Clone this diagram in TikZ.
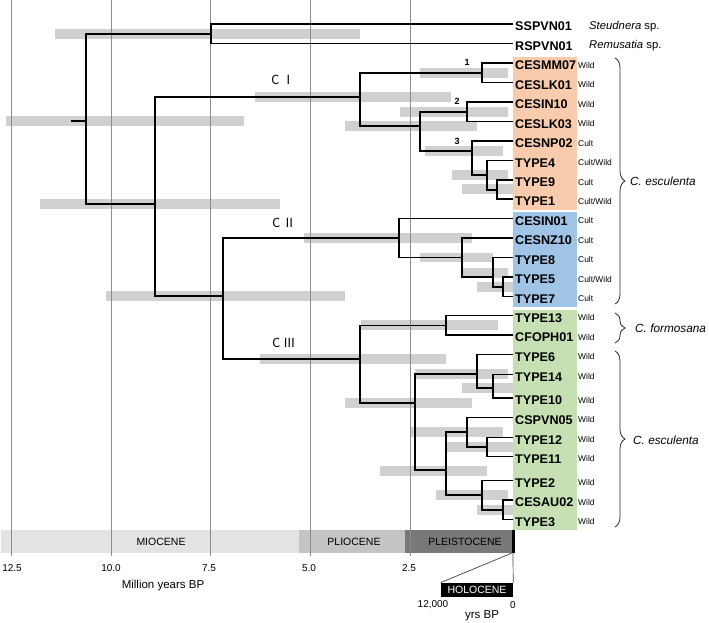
\documentclass[tikz,border=0pt]{standalone}
\usepackage{fontspec}
\setmainfont{Liberation Sans}
\newfontfamily\jpfont{Noto Sans CJK JP}
\usetikzlibrary{decorations.pathreplacing}
\definecolor{barc}{RGB}{208,208,208}
\definecolor{gridc}{RGB}{140,140,140}
\definecolor{orangebox}{RGB}{248,203,173}
\definecolor{bluebox}{RGB}{160,196,230}
\definecolor{greenbox}{RGB}{198,224,180}
\definecolor{mio}{RGB}{227,227,227}
\definecolor{plio}{RGB}{196,196,196}
\definecolor{pleis}{RGB}{120,120,120}
\newcommand\clade[3]{\draw[tree] (#2) -- (#1 |- #2) -- (#1 |- #3) -- (#3);}
\begin{document}
\begin{tikzpicture}[x=1pt,y=-1pt,
  tree/.style={line width=1.9pt,black},
  gridl/.style={gridc,line width=0.8pt},
  leaflab/.style={anchor=west,inner sep=0pt,font=\bfseries\fontsize{12.6}{12.6}\selectfont},
  statlab/.style={anchor=west,inner sep=0pt,font=\fontsize{8.4}{8.4}\selectfont},
  spec/.style={anchor=west,inner sep=0pt,font=\fontsize{11.3}{11.3}\selectfont},
  cladelab/.style={inner sep=0pt,font=\jpfont\fontsize{12.5}{12.5}\selectfont},
  numlab/.style={inner sep=0pt,font=\bfseries\fontsize{9}{9}\selectfont},
  ticklab/.style={inner sep=0pt,font=\fontsize{10}{10}\selectfont},
  epochlab/.style={inner sep=0pt,font=\fontsize{10.5}{10.5}\selectfont},
  bracec/.style={decorate,decoration={brace,amplitude=10pt},line width=0.8pt,black!85}
]
\useasboundingbox (0,0) rectangle (709,622);

% label boxes
\fill[orangebox] (513,56.5) rectangle (577,209.5);
\fill[bluebox] (513,212) rectangle (577,306.5);
\fill[greenbox] (513,310) rectangle (577,529.5);

% HPD bars
\foreach \a/\b/\c in {55/360/34, 6/244/121, 40/280/204, 255/451/97, 420/508/73,
  345/477/126, 400/508/112, 425/503/151, 452/508/175, 462/513/189,
  106/345/296, 304/472/238, 420/493/257.5, 462/508/273, 477/513/287,
  260/446/359, 361/498/325, 345/472/403, 415/508/374, 462/513/388,
  380/487/471, 410/503/432, 447/513/447, 436/508/495, 477/513/510}
  \fill[barc] (\a,\c-4.75) rectangle (\b,\c+4.75);

% epochs
\fill[mio] (1,530) rectangle (299,553);
\fill[plio] (299,530) rectangle (405,553);
\fill[pleis] (405,530) rectangle (512,553);
\fill[black] (512,530) rectangle (514.5,553);
\node[epochlab] (mioc) at (161,541.5) {MIOCENE};
\node[epochlab] (plioc) at (354,541.5) {PLIOCENE};
\node[epochlab] (pleisc) at (465,541.5) {PLEISTOCENE};

% grid lines
\foreach \x in {11,111,210,310,410}
  \draw[gridl] (\x,0) -- (\x,556);

% tick labels
\node[ticklab] (t125) at (12,568) {12.5};
\node[ticklab] (t100) at (111,568) {10.0};
\node[ticklab] (t75) at (209,568) {7.5};
\node[ticklab] (t50) at (309,568) {5.0};
\node[ticklab] (t25) at (409,568) {2.5};
\node[inner sep=0pt,font=\fontsize{11.5}{11.5}\selectfont] (myr) at (163,586) {Million years BP};

% holocene inset
\node[fill=black,text=white,inner sep=0pt,minimum width=72pt,minimum height=14.5pt,
  font=\fontsize{10.5}{10.5}\selectfont] (holo) at (477,590) {HOLOCENE};
\coordinate (pleisend) at (512,553);
\coordinate (holend) at (513,553);
\draw[black!75,line width=0.7pt] (holo.north west) -- (pleisend);
\draw[black!75,line width=0.7pt] (holend) -- (holo.north east);
\node[ticklab] (t12k) at (433,605) {12,000};
\node[ticklab] (t0) at (513,605) {0};
\node[inner sep=0pt,font=\fontsize{11.5}{11.5}\selectfont] (yrs) at (482,616) {yrs BP};

% leaves
\foreach \n/\y/\t/\s in {
  3/63/CESMM07/Wild, 4/82.5/CESLK01/Wild, 5/102/CESIN10/Wild, 6/121.5/CESLK03/Wild,
  7/141/CESNP02/Cult, 8/160.5/TYPE4/{Cult/Wild}, 9/180/TYPE9/Cult, 10/199/TYPE1/{Cult/Wild},
  11/218.5/CESIN01/Cult, 12/238/CESNZ10/Cult, 13/257.5/TYPE8/Cult, 14/277/TYPE5/{Cult/Wild},
  15/296.5/TYPE7/Cult, 16/315.5/TYPE13/Wild, 17/335/CFOPH01/Wild, 18/354.5/TYPE6/Wild,
  19/374.5/TYPE14/Wild, 20/398/TYPE10/Wild, 21/417.5/CSPVN05/Wild, 22/437.5/TYPE12/Wild,
  23/456.5/TYPE11/Wild, 24/480.5/TYPE2/Wild, 25/500/CESAU02/Wild, 26/519.5/TYPE3/Wild}
{
  \coordinate (l\n) at (513,\y);
  \node[leaflab] (lab\n) at (515,\y+2.4) {\t};
  \node[statlab] (st\n) at (578,\y+2.4) {\s};
}
\coordinate (l1) at (513,24);
\coordinate (l2) at (513,43.5);
\node[leaflab] (lab1) at (515,26.4) {SSPVN01};
\node[leaflab] (lab2) at (515,45.9) {RSPVN01};
\node[spec] (sp1) at (589,26.4) {\textit{Steudnera} sp.};
\node[spec] (sp2) at (589,45.9) {\textit{Remusatia} sp.};

% internal nodes (x, stem y)
\coordinate (root) at (86,121);
\coordinate (rootstub) at (71,121);
\coordinate (O) at (211,34);
\coordinate (P) at (155,204);
\coordinate (CI) at (360,97);
\coordinate (n1) at (482,73);
\coordinate (Q) at (420,126);
\coordinate (n2) at (467,112);
\coordinate (n3) at (472,151);
\coordinate (R) at (487,175);
\coordinate (S) at (497,190);
\coordinate (T) at (223,296);
\coordinate (CII) at (399,238);
\coordinate (B) at (462,257.5);
\coordinate (C) at (493,277);
\coordinate (D) at (503,287);
\coordinate (CIII) at (360,359);
\coordinate (F) at (446,325.5);
\coordinate (G) at (415,403);
\coordinate (H) at (477,374);
\coordinate (I) at (493,388);
\coordinate (J) at (446,470);
\coordinate (K) at (467,432);
\coordinate (L) at (487,447);
\coordinate (M) at (482,495);
\coordinate (N) at (503,510);

% tree
\draw[tree] (rootstub) -- (root);
\clade{root}{O}{P}
\clade{O}{l1}{l2}
\clade{P}{CI}{T}
\clade{CI}{n1}{Q}
\clade{n1}{l3}{l4}
\clade{Q}{n2}{n3}
\clade{n2}{l5}{l6}
\clade{n3}{l7}{R}
\clade{R}{l8}{S}
\clade{S}{l9}{l10}
\clade{T}{CII}{CIII}
\clade{CII}{l11}{B}
\clade{B}{l12}{C}
\clade{C}{l13}{D}
\clade{D}{l14}{l15}
\clade{CIII}{F}{G}
\clade{F}{l16}{l17}
\clade{G}{H}{J}
\clade{H}{l18}{I}
\clade{I}{l19}{l20}
\clade{J}{K}{M}
\clade{K}{l21}{L}
\clade{L}{l22}{l23}
\clade{M}{l24}{N}
\clade{N}{l25}{l26}

% clade labels
\node[cladelab] (cl1) at (283,80) {C Ⅰ};
\node[cladelab] (cl2) at (284,223) {C Ⅱ};
\node[cladelab] (cl3) at (284,343) {C Ⅲ};
\node[numlab] (nl1) at (467,62) {1};
\node[numlab] (nl2) at (457,101.5) {2};
\node[numlab] (nl3) at (457,141) {3};

% braces
\coordinate (b1t) at (615,58);
\coordinate (b1b) at (615,304);
\coordinate (b2t) at (615,313);
\coordinate (b2b) at (615,343);
\coordinate (b3t) at (615,351);
\coordinate (b3b) at (615,527);
\draw[bracec] (b1t) -- (b1b);
\draw[bracec] (b2t) -- (b2b);
\draw[bracec] (b3t) -- (b3b);
\node[spec,font=\itshape\fontsize{11.8}{11.8}\selectfont] (esc1) at (630,181) {C. esculenta};
\node[spec,font=\itshape\fontsize{11.8}{11.8}\selectfont] (form) at (635,328) {C. formosana};
\node[spec,font=\itshape\fontsize{11.8}{11.8}\selectfont] (esc2) at (633,440) {C. esculenta};
\end{tikzpicture}
\end{document}
